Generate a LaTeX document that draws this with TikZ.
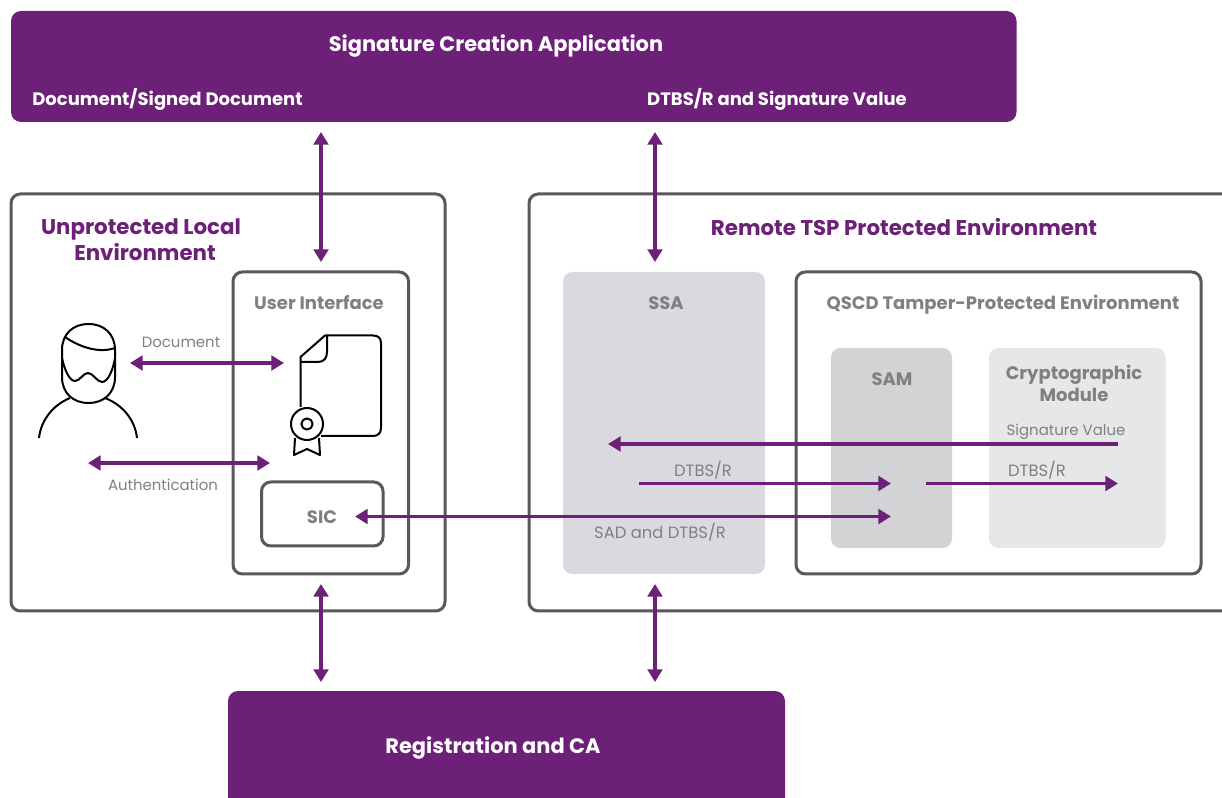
\documentclass[tikz,border=0pt]{standalone}
\usepackage{fontspec}
\setmainfont{Poppins}
\usetikzlibrary{arrows.meta}
\definecolor{pur}{HTML}{6D2077}
\definecolor{edgeg}{HTML}{58595B}
\definecolor{txtg}{HTML}{808083}
\definecolor{ssaf}{HTML}{DCD8DF}
\definecolor{samf}{HTML}{D1D3D4}
\definecolor{cryf}{HTML}{E6E7E8}
\tikzset{
 x=0.75pt,y=-0.75pt,
 purbox/.style={fill=pur,draw=none,rounded corners=7.5pt},
 frame/.style={draw=edgeg,line width=2.25pt,fill=none,rounded corners=7pt},
 soft/.style={draw=none,rounded corners=7pt},
 whitetxt/.style={text=white,font=\fontsize{15.7}{18}\selectfont\bfseries,inner sep=0pt},
 whitesm/.style={text=white,font=\fontsize{13.5}{16}\selectfont\bfseries,inner sep=0pt},
 purtxt/.style={text=pur,font=\fontsize{16}{19.5}\selectfont\bfseries,inner sep=0pt,align=center},
 grayhead/.style={text=txtg,font=\fontsize{13.5}{16.5}\selectfont\bfseries,inner sep=0pt,align=center},
 graytxt/.style={text=txtg,font=\fontsize{11.2}{13}\selectfont,inner sep=0pt},
 graycaps/.style={text=txtg,font=\fontsize{12.3}{14}\selectfont,inner sep=0pt},
 link/.style={draw=pur,line width=2.3pt},
 both/.style={link,{Triangle[length=9.5pt,width=11pt]}-{Triangle[length=9.5pt,width=11pt]}},
 fwd/.style={link,-{Triangle[length=9.5pt,width=11pt]}},
 icon/.style={draw=black,line width=1.5pt,line join=round},
}
\newcommand{\rbox}[6]{\path[#1] (#3,#4) rectangle (#5,#6) coordinate[pos=.5] (#2);}
\begin{document}
\begin{tikzpicture}
\useasboundingbox (0,0) rectangle (1222,798);
\clip (0,0) rectangle (1222,798);
\fill[white] (0,0) rectangle (1222,798);
% boxes
\rbox{purbox}{sca}{11}{11}{1016.5}{122}
\rbox{purbox}{reg}{228}{691}{785}{815}
\rbox{frame}{ule}{11}{194}{445}{611}
\rbox{frame}{rtsp}{529}{194}{1250}{611}
\rbox{frame}{ui}{233}{272}{408.5}{574}
\rbox{soft,fill=ssaf}{ssa}{563}{272}{765}{574}
\rbox{frame}{qscd}{796}{272}{1201}{574}
\rbox{soft,fill=samf}{sam}{831}{348}{952}{548}
\rbox{soft,fill=cryf}{cry}{989}{348}{1165.5}{548}
\rbox{frame}{sicbox}{261.5}{482}{383}{546}
% texts
\node[whitetxt] (t1) at (496,46) {Signature Creation Application};
\node[whitesm] (t2) at (167.5,99) {Document/Signed Document};
\node[whitesm] (t3) at (777,99) {DTBS/R and Signature Value};
\node[whitetxt] (t4) at (493,748) {Registration and CA};
\node[purtxt] (t5) at (141,240) {Unprotected Local\\\hspace*{6pt}Environment};
\node[purtxt] (t6) at (904,227) {Remote TSP Protected Environment};
\node[grayhead] (t7) at (319,303) {User Interface};
\node[grayhead] (t8) at (666,303) {SSA};
\node[grayhead] (t9) at (1003,305) {QSCD Tamper-Protected Environment};
\node[grayhead] (t10) at (892,379) {SAM};
\node[grayhead] (t11) at (1074,383) {Cryptographic\\Module};
\node[graytxt] (t12) at (181,342) {Document};
\node[graytxt] (t13) at (163,485) {Authentication};
\node[graycaps] (t14) at (703,470) {DTBS/R};
\node[graycaps] (t15) at (1037,470) {DTBS/R};
\node[graycaps] (t16) at (660,532) {SAD and DTBS/R};
\node[graytxt] (t17) at (1066,432) {Signature Value};
\node[grayhead] (sic) at (322,517) {SIC};
% icons
\begin{scope}[icon]
 \path[draw] (62,350) .. controls (62,334) and (73,324) .. (88.5,324) .. controls (104,324) and (115,334) .. (115,350) -- (115,377) .. controls (115,393) and (104,403) .. (88.5,403) .. controls (73,403) and (62,393) .. (62,377) -- cycle;
 \path[draw] (65,337) .. controls (78,346) and (98,354) .. (115,348);
 \path[draw] (62,358) .. controls (65,372) and (70,381) .. (75,381) .. controls (80,381) and (83,373) .. (88,373) .. controls (93,373) and (97,382) .. (102,382) .. controls (108,382) and (113,370) .. (115,358);
 \path[draw] (39,438) .. controls (41,420) and (53,405) .. (70,398);
 \path[draw] (137,438) .. controls (135,420) and (123,405) .. (105,398);
 \path[draw] (300.5,407) -- (300.5,357) -- (325,335.5) -- (373,335.5) .. controls (378,335.5) and (381,338) .. (381,343) -- (381,428) .. controls (381,433) and (378,436) .. (373,436) -- (321,436);
 \path[draw] (327,335.5) -- (327,352) .. controls (327,358) and (324,362) .. (318,362) -- (300.5,362);
 \path[draw] (307,424) circle[radius=12pt];
 \path[draw] (307,424) circle[radius=4.2pt];
 \path[draw] (295,438) -- (294,455) -- (307,449) -- (320,455) -- (319,438);
\end{scope}
% connector ends
\coordinate (a1) at (321,132); \coordinate (a2) at (321,262);
\coordinate (b1) at (655,132); \coordinate (b2) at (655,262);
\coordinate (c1) at (321,584); \coordinate (c2) at (321,682);
\coordinate (d1) at (655,584); \coordinate (d2) at (655,682);
\coordinate (e1) at (130,363); \coordinate (e2) at (284,363);
\coordinate (f1) at (88,463); \coordinate (f2) at (270,463);
\coordinate (g1) at (1118,444); \coordinate (g2) at (608,444);
\coordinate (h1) at (639,483.5); \coordinate (h2) at (891,483.5);
\coordinate (i1) at (926,483.5); \coordinate (i2) at (1118,483.5);
\coordinate (j1) at (355,516.5); \coordinate (j2) at (891,516.5);
\draw[both] (a1) -- (a2);
\draw[both] (b1) -- (b2);
\draw[both] (c1) -- (c2);
\draw[both] (d1) -- (d2);
\draw[both] (e1) -- (e2);
\draw[both] (f1) -- (f2);
\draw[fwd] (g1) -- (g2);
\draw[fwd] (h1) -- (h2);
\draw[fwd] (i1) -- (i2);
\draw[both] (j1) -- (j2);
\end{tikzpicture}
\end{document}
